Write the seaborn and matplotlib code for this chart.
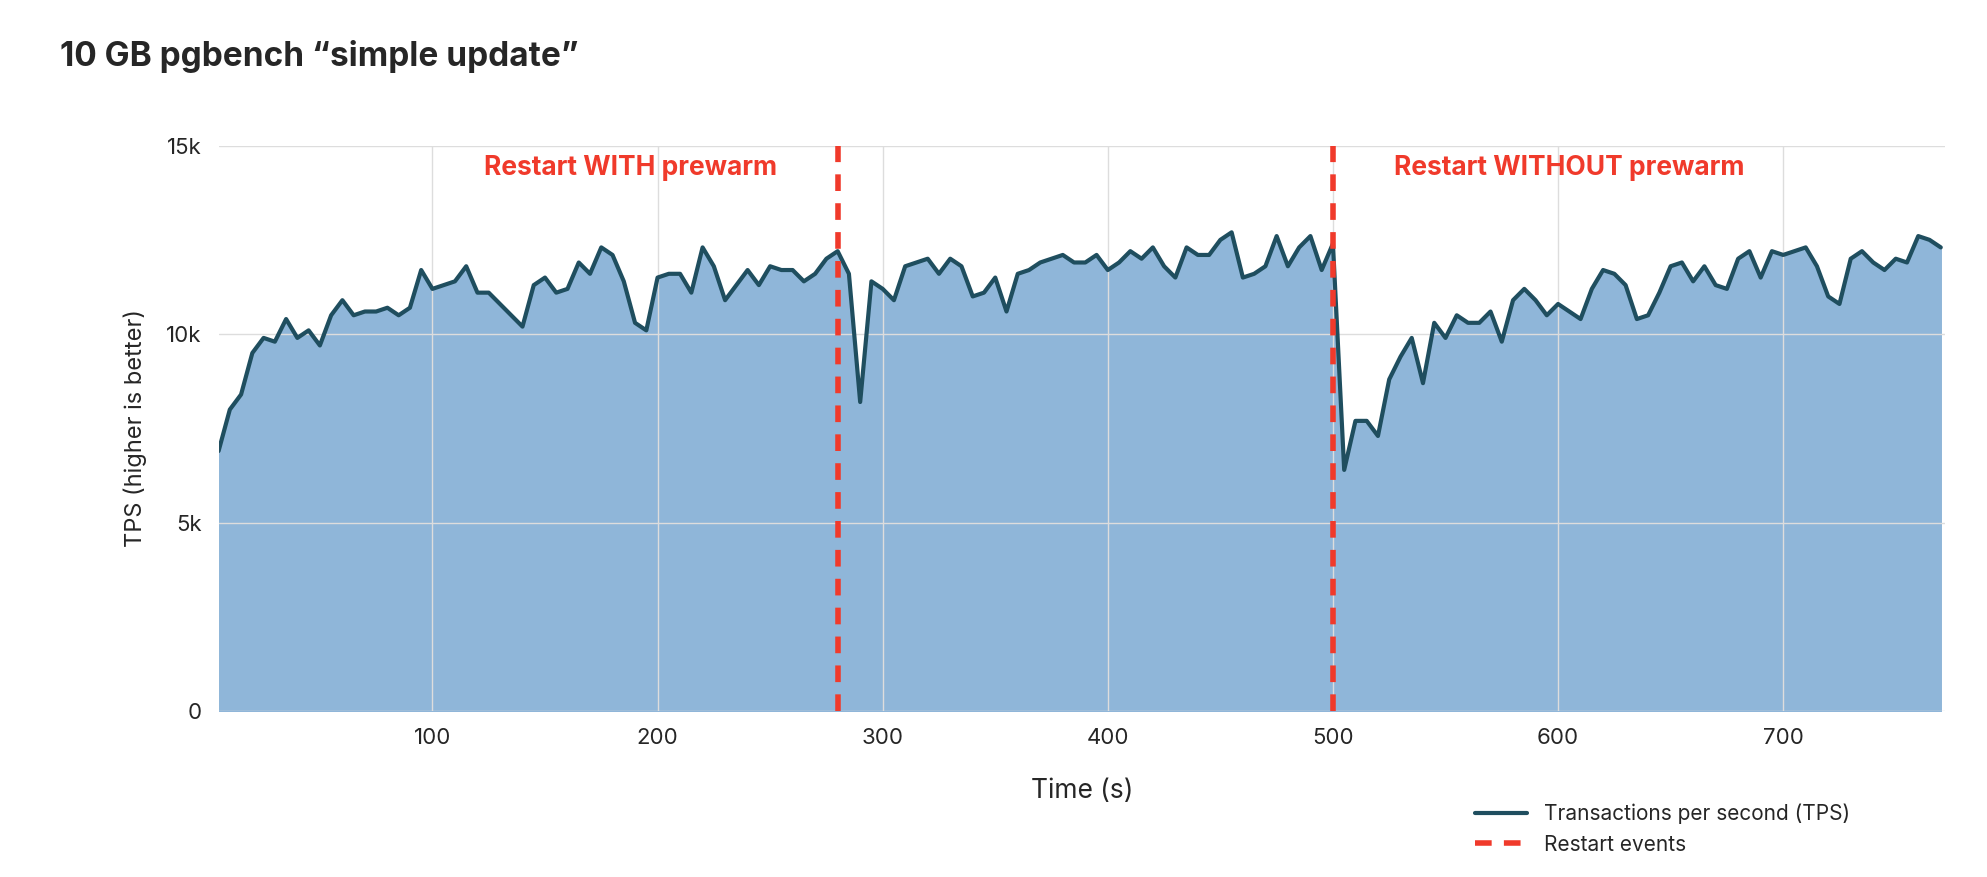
import numpy as np
import pandas as pd
import matplotlib
matplotlib.use("Agg")
import matplotlib.pyplot as plt
import seaborn as sns

# TPS samples, one every 5 s starting at t=5
tps = [6.9, 8.0, 8.4, 9.5, 9.9, 9.8, 10.4, 9.9, 10.1, 9.7,
       10.5, 10.9, 10.5, 10.6, 10.6, 10.7, 10.5, 10.7, 11.7, 11.2,
       11.3, 11.4, 11.8, 11.1, 11.1, 10.8, 10.5, 10.2, 11.3, 11.5,
       11.1, 11.2, 11.9, 11.6, 12.3, 12.1, 11.4, 10.3, 10.1, 11.5,
       11.6, 11.6, 11.1, 12.3, 11.8, 10.9, 11.3, 11.7, 11.3, 11.8,
       11.7, 11.7, 11.4, 11.6, 12.0, 12.2, 11.6, 8.2, 11.4, 11.2,
       10.9, 11.8, 11.9, 12.0, 11.6, 12.0, 11.8, 11.0, 11.1, 11.5,
       10.6, 11.6, 11.7, 11.9, 12.0, 12.1, 11.9, 11.9, 12.1, 11.7,
       11.9, 12.2, 12.0, 12.3, 11.8, 11.5, 12.3, 12.1, 12.1, 12.5,
       12.7, 11.5, 11.6, 11.8, 12.6, 11.8, 12.3, 12.6, 11.7, 12.4,
       6.4, 7.7, 7.7, 7.3, 8.8, 9.4, 9.9, 8.7, 10.3, 9.9,
       10.5, 10.3, 10.3, 10.6, 9.8, 10.9, 11.2, 10.9, 10.5, 10.8,
       10.6, 10.4, 11.2, 11.7, 11.6, 11.3, 10.4, 10.5, 11.1, 11.8,
       11.9, 11.4, 11.8, 11.3, 11.2, 12.0, 12.2, 11.5, 12.2, 12.1,
       12.2, 12.3, 11.8, 11.0, 10.8, 12.0, 12.2, 11.9, 11.7, 12.0,
       11.9, 12.6, 12.5, 12.3]
restarts = [280, 500]
restart_labels = ["Restart WITH prewarm", "Restart WITHOUT prewarm"]

df = pd.DataFrame({"time": 5 * np.arange(1, len(tps) + 1), "tps": np.array(tps) * 1000})

sns.set_style("whitegrid")
plt.rcParams['font.family'] = ['Inter', 'DejaVu Sans']

fig = plt.figure(figsize=(19.87, 8.77), dpi=100)
ax = fig.add_axes([0.110, 0.189, 0.869, 0.645])

ax.fill_between(df["time"], df["tps"], color="#8fb6d9", zorder=1)
sns.lineplot(data=df, x="time", y="tps", ax=ax, color="#1f4e5f", lw=3,
             label="Transactions per second (TPS)", zorder=3)
for i, (r, lab) in enumerate(zip(restarts, restart_labels)):
    ax.axvline(r, color="#f03a2b", lw=4, ls=(0, (3, 2.2)), zorder=4,
               label="Restart events" if i == 0 else None)
    ax.text(r - 27 if i == 0 else r + 27, 14400, lab, color="#f03a2b",
            fontsize=19, fontweight="bold", ha="right" if i == 0 else "left", va="center")

ax.set_xlim(5, 772)
ax.set_ylim(0, 15000)
ax.set_xticks([100, 200, 300, 400, 500, 600, 700])
ax.set_yticks([0, 5000, 10000, 15000])
ax.set_yticklabels(["0", "5k", "10k", "15k"])
ax.tick_params(labelsize=16, length=0, pad=12)
ax.grid(color="#dddddd", lw=1)
ax.set_axisbelow(False)
for s in ax.spines.values():
    s.set_visible(False)
ax.set_xlabel("Time (s)", fontsize=19, labelpad=22)
ax.set_ylabel("TPS (higher is better)", fontsize=17, labelpad=14)

ax.legend(loc="upper left", bbox_to_anchor=(0.733, 0.105), bbox_transform=fig.transFigure,
          frameon=False, fontsize=15, handlelength=2.5, labelspacing=0.5)
fig.text(0.03, 0.925, "10 GB pgbench \u201csimple update\u201d", fontsize=24, fontweight="bold")

fig.savefig("out.png", dpi=100)
